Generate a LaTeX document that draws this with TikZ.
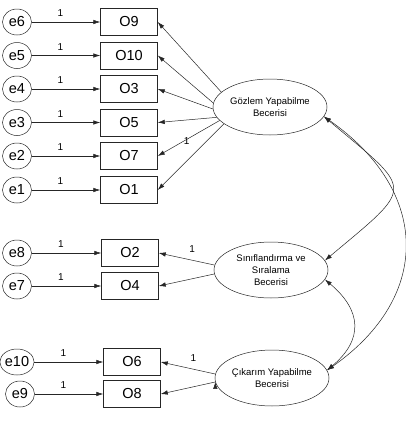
\documentclass[tikz,border=0pt]{standalone}
\usepackage{fontspec}
\setmainfont{Liberation Sans}
\usepackage{tikz}
\usetikzlibrary{
    arrows.meta,
    shapes.geometric,
    calc,
    positioning
}
\tikzset{errv/.style={ellipse, draw, inner sep=0pt, minimum width=29pt, minimum height=26pt, font=\fontsize{14.5}{14.5}\selectfont}}
\tikzset{obsv/.style={rectangle, draw, inner sep=0pt, minimum width=57pt, minimum height=27pt, font=\fontsize{14.5}{14.5}\selectfont}}
\tikzset{latv/.style={ellipse, draw, inner sep=0pt, minimum width=114pt, minimum height=56pt, align=center, font=\fontsize{9.5}{12}\selectfont}}
\tikzset{wlbl/.style={font=\fontsize{10}{10}\selectfont, inner sep=1pt}}
\tikzset{pth/.style={-{Latex[length=7pt,width=4.5pt]}}}
\tikzset{cov/.style={{Latex[length=7pt,width=4.5pt]}-{Latex[length=7pt,width=4.5pt]}}}

\begin{document}
\begin{tikzpicture}[x=1pt, y=-1pt, line width=0.5pt, draw=black!85]
                        \useasboundingbox (0, 0) rectangle (406, 424);

                        \node[errv] (e6) at (17, 22) {e6};
                        \node[errv] (e5) at (17, 55.5) {e5};
                        \node[errv] (e4) at (17, 89) {e4};
                        \node[errv] (e3) at (17, 122.5) {e3};
                        \node[errv] (e2) at (17, 156) {e2};
                        \node[errv] (e1) at (17, 190) {e1};
                        \node[errv] (e8) at (17, 253) {e8};
                        \node[errv] (e7) at (17, 286) {e7};
                        \node[errv, minimum width=32pt] (e10) at (17, 362) {e10};
                        \node[errv] (e9) at (20, 394) {e9};

                        \node[obsv] (O9) at (129, 22) {O9};
                        \node[obsv] (O10) at (129, 55.5) {O10};
                        \node[obsv] (O3) at (129, 89) {O3};
                        \node[obsv] (O5) at (129, 122.5) {O5};
                        \node[obsv] (O7) at (129, 156) {O7};
                        \node[obsv] (O1) at (129, 190) {O1};
                        \node[obsv] (O2) at (130, 253) {O2};
                        \node[obsv] (O4) at (130, 286) {O4};
                        \node[obsv] (O6) at (132, 362) {O6};
                        \node[obsv] (O8) at (132, 394) {O8};

                        \node[latv] (gozlem) at (270, 107) {G\"{o}zlem Yapabilme\\Becerisi};
                        \node[latv] (sinif) at (271, 270) {S\i n\i fland\i rma ve\\S\i ralama\\Becerisi};
                        \node[latv] (cikarim) at (272, 378) {\c{C}\i kar\i m Yapabilme\\Becerisi};

                        % error paths
                        \draw[pth]
                        (e6) edge node[wlbl, pos=0.42, above=4pt] {1} (O9)
                        (e5) edge node[wlbl, pos=0.42, above=4pt] {1} (O10)
                        (e4) edge node[wlbl, pos=0.42, above=4pt] {1} (O3)
                        (e3) edge node[wlbl, pos=0.42, above=4pt] {1} (O5)
                        (e2) edge node[wlbl, pos=0.42, above=4pt] {1} (O7)
                        (e1) edge node[wlbl, pos=0.42, above=4pt] {1} (O1)
                        (e8) edge node[wlbl, pos=0.42, above=4pt] {1} (O2)
                        (e7) edge node[wlbl, pos=0.42, above=4pt] {1} (O4)
                        (e10) edge node[wlbl, pos=0.42, above=4pt] {1} (O6)
                        (e9) edge node[wlbl, pos=0.42, above=4pt] {1} (O8);

                        % factor loadings
                        \draw[pth]
                        (gozlem.163) edge (O9.east)
                        (gozlem.176) edge (O10.east)
                        (gozlem.182) edge (O3.east)
                        (gozlem.191) edge (O5.east)
                        (gozlem.195) edge node[wlbl, pos=0.58, xshift=3pt] {1} (O7.east)
                        (gozlem.200) edge (O1.east)
                        (sinif.175) edge node[wlbl, pos=0.4, above=6pt] {1} (O2.east)
                        (sinif.184) edge (O4.east)
                        (cikarim.176) edge node[wlbl, pos=0.4, above=6pt] {1} (O6.east)
                        (cikarim.184) edge (O8.east);

                        % covariances
                        \draw[cov] (gozlem.-10) to[out=-40, in=40, looseness=2.1] (sinif.10);
                        \draw[cov] (gozlem.-10) to[out=-35, in=35, looseness=1.3] (cikarim.8);
                        \draw[cov] (sinif.-10) to[out=-40, in=40, looseness=1.35] (cikarim.8);
                    \end{tikzpicture}
\end{document}
